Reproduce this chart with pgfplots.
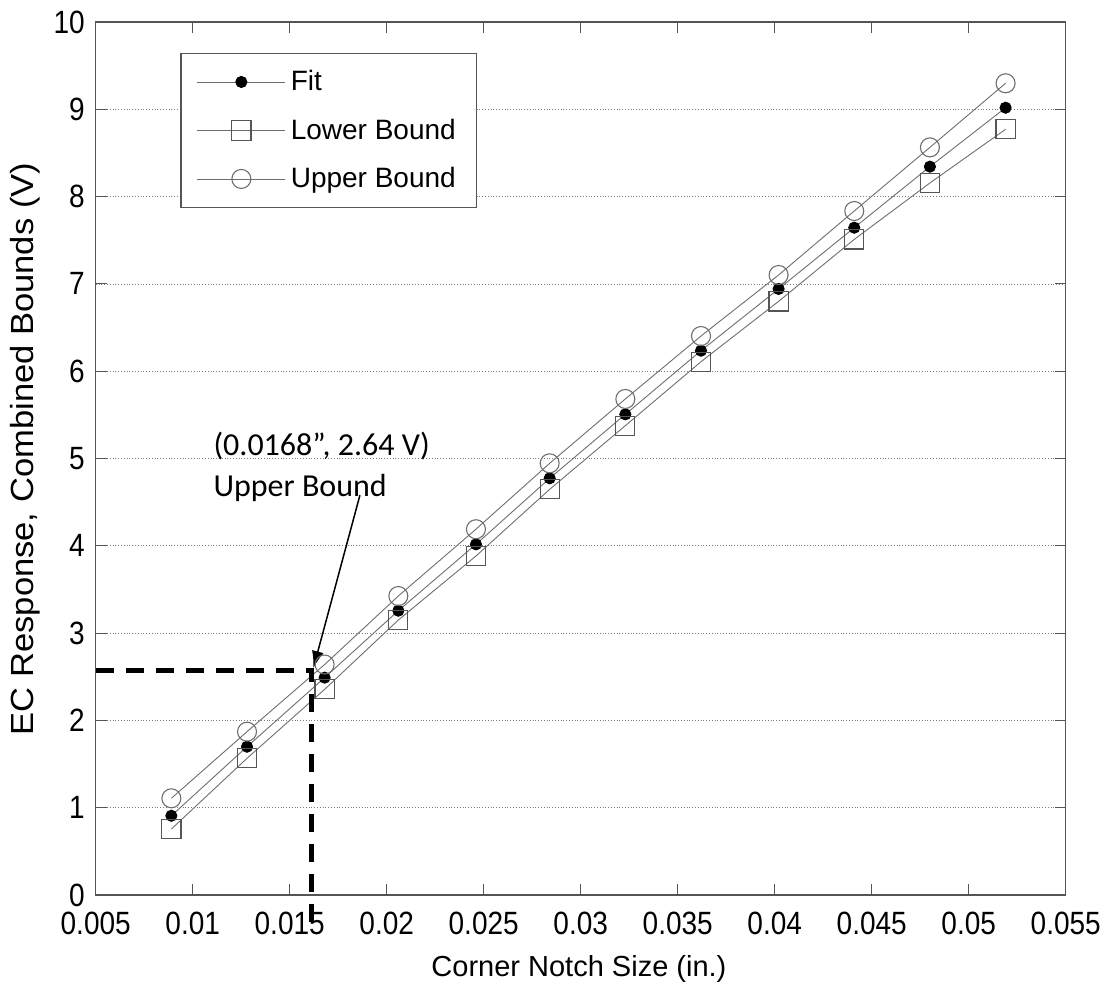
\documentclass[border=0pt]{standalone}
\usepackage{fontspec}
\setmainfont{Liberation Sans}
\newfontfamily\calibri{Carlito}
\usepackage{graphicx}
\usepackage{pgfplots}
\usepackage{pgfplotstable}
\pgfplotsset{compat=1.18}
\usetikzlibrary{arrows.meta}

\definecolor{axisgray}{HTML}{555555}
\definecolor{linegray}{HTML}{6E6E6E}
\definecolor{gridgray}{HTML}{7A7A7A}

% EC response of the fit and its combined lower/upper bounds
\pgfplotstableread{
x       fit    lower  upper
0.0089  0.908  0.756  1.108
0.0128  1.699  1.566  1.871
0.0168  2.490  2.356  2.640
0.0206  3.257  3.150  3.425
0.0246  4.017  3.883  4.190
0.0284  4.773  4.647  4.945
0.0323  5.506  5.376  5.682
0.0362  6.235  6.109  6.403
0.0402  6.942  6.800  7.102
0.0441  7.644  7.510  7.835
0.0480  8.343  8.156  8.564
0.0519  9.018  8.771  9.298
}\bounds

% tick numbers: slightly tall face
\newcommand\tk[1]{\scalebox{1}[1.15]{\fontsize{14}{16}\selectfont #1}}

\begin{document}
\begin{tikzpicture}
\begin{axis}[
  scale only axis, width=485pt, height=436.5pt,
  xmin=0.005, xmax=0.055, ymin=0, ymax=10,
  scaled x ticks=false, scaled y ticks=false,
  xtick={0.005,0.01,0.015,0.02,0.025,0.03,0.035,0.04,0.045,0.05,0.055},
  xticklabels={\tk{0.005},\tk{0.01},\tk{0.015},\tk{0.02},\tk{0.025},\tk{0.03},\tk{0.035},\tk{0.04},\tk{0.045},\tk{0.05},\tk{0.055}},
  ytick={0,1,2,3,4,5,6,7,8,9,10},
  yticklabels={\tk{0},\tk{1},\tk{2},\tk{3},\tk{4},\tk{5},\tk{6},\tk{7},\tk{8},\tk{9},\tk{10}},
  tick align=inside, major tick length=5.5pt,
  tick style={axisgray, line width=0.5pt},
  axis line style={axisgray, line width=0.6pt},
  ymajorgrids, grid style={gridgray, densely dotted, line width=0.4pt},
  xticklabel style={anchor=north, inner sep=0pt, yshift=-8.2pt},
  yticklabel style={anchor=east, inner sep=0pt, xshift=-5.3pt},
  xlabel={Corner Notch Size (in.)},
  ylabel={\scalebox{1.08}[1]{EC Response, Combined Bounds (V)}},
  xlabel style={at={(axis description cs:0.4982,-0.0936)}, anchor=base, inner sep=0pt,
    font=\fontsize{14.5}{17}\selectfont},
  ylabel style={at={(axis description cs:-0.0646,0.5109)}, anchor=base, inner sep=0pt,
    font=\fontsize{16}{19}\selectfont},
  clip=false,
  legend cell align=left,
  legend style={at={(axis cs:0.009361,9.648)}, anchor=north west,
    draw=axisgray, line width=0.6pt, fill=white,
    font=\fontsize{14}{16.5}\selectfont,
    inner xsep=8pt, inner ysep=6pt, row sep=7.6pt,
    nodes={inner sep=2.5pt}},
  legend image code/.code={\draw[mark repeat=2,mark phase=2,#1]
    plot coordinates {(0pt,0pt)(22pt,0pt)(44pt,0pt)};},
]
% area of the whole figure
\path (axis cs:0.000067,-1.065) rectangle (axis cs:0.05754,10.252);

\addplot[linegray, line width=0.45pt, mark=*, mark size=2.8pt,
  mark options={black, fill=black}] table[x=x, y=fit] {\bounds};
\addlegendentry{Fit}
\addplot[linegray, line width=0.45pt, mark=square, mark size=4.8pt,
  mark options={axisgray, line width=0.55pt}] table[x=x, y=lower] {\bounds};
\addlegendentry{Lower Bound}
\addplot[linegray, line width=0.45pt, mark=o, mark size=4.75pt,
  mark options={linegray, line width=0.55pt}] table[x=x, y=upper] {\bounds};
\addlegendentry{Upper Bound}

% read-off of the upper bound at the third notch
\draw[black, line width=2.5pt, dash pattern=on 9pt off 6pt]
  (axis cs:0.005,2.577) -- (axis cs:0.01613,2.577) -- (axis cs:0.01613,-0.32);
\draw[black, line width=0.75pt, -{Latex[length=8.5pt,width=6pt]}]
  (axis cs:0.01862,4.58) -- (axis cs:0.01622,2.60);
\node[anchor=base west, inner sep=0pt, font=\calibri\fontsize{16}{19}\selectfont]
  at (axis cs:0.011053,5.040) {(0.0168”, 2.64 V)};
\node[anchor=base west, inner sep=0pt, font=\calibri\fontsize{16}{19}\selectfont]
  at (axis cs:0.011053,4.562) {Upper Bound};
\end{axis}
\end{tikzpicture}
\end{document}
